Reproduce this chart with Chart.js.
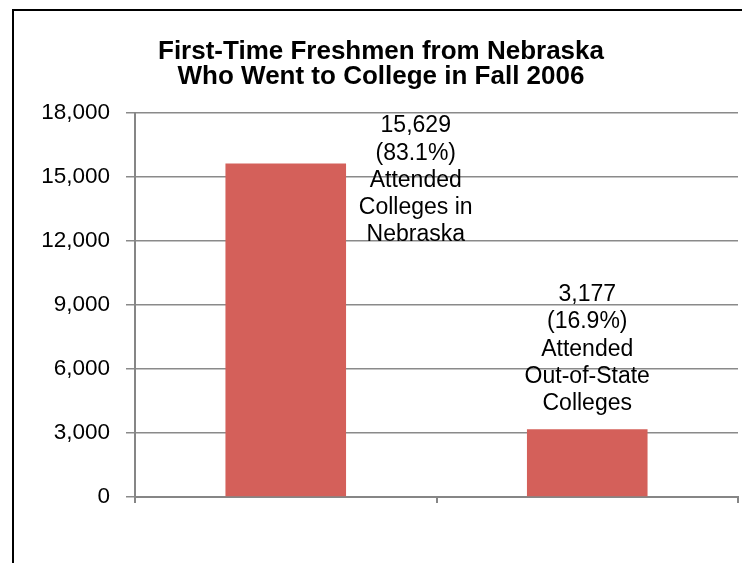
<!DOCTYPE html>
<html>
<head>
<meta charset="utf-8">
<script src="https://cdn.jsdelivr.net/npm/chart.js@4/dist/chart.umd.min.js"></script>
<style>
html, body { margin: 0; background: #fff; overflow: hidden; }
#frame { position: absolute; left: 12px; top: 9px; width: 800px; height: 600px; border-left: 2px solid #000; border-top: 2px solid #000; }
#wrap { position: absolute; left: 0; top: 0; width: 742px; height: 563px; }
</style>
</head>
<body>
<div id="frame"></div>
<div id="wrap"><canvas id="myChart" width="742" height="563"></canvas></div>
<script>
const categories = [['Attended', 'Colleges in', 'Nebraska'], ['Attended', 'Out-of-State', 'Colleges']];
const students = [15629, 3177];
const shares = [83.1, 16.9];
const yTicks = [0, 3000, 6000, 9000, 12000, 15000, 18000];

// where each multi-line label sits relative to the top of its bar
const labelOffsets = [{ dx: 130, dy: -31 }, { dx: 0, dy: -128 }];

const barLabels = {
    id: 'barLabels',
    afterDatasetsDraw(chart) {
        const ctx = chart.ctx;
        const meta = chart.getDatasetMeta(0);
        ctx.save();
        ctx.font = '23px "Liberation Sans", Arial, sans-serif';
        ctx.fillStyle = '#000';
        ctx.textAlign = 'center';
        ctx.textBaseline = 'alphabetic';
        meta.data.forEach((bar, i) => {
            const lines = [students[i].toLocaleString('en-US'), '(' + shares[i].toFixed(1) + '%)'].concat(categories[i]);
            const off = labelOffsets[i];
            lines.forEach((line, j) => {
                ctx.fillText(line, bar.x + off.dx, bar.y + off.dy + j * 27.2);
            });
        });
        ctx.restore();
    }
};

const ctx = document.getElementById('myChart').getContext('2d');

const myChart = new Chart(ctx, {
    type: 'bar',
    data: {
        labels: categories.map(c => c.join(' ')),
        datasets: [{
            data: students,
            backgroundColor: '#D4605A',
            borderWidth: 0,
            barPercentage: 0.4,
            categoryPercentage: 1.0
        }]
    },
    plugins: [barLabels],
    options: {
        responsive: false,
        animation: false,
        devicePixelRatio: 1,
        layout: {
            padding: { left: 24, right: 4, top: 0, bottom: 0 }
        },
        plugins: {
            legend: { display: false },
            tooltip: { enabled: false },
            title: {
                display: true,
                text: ['First-Time Freshmen from Nebraska', 'Who Went to College in Fall 2006'],
                color: '#000',
                font: { family: '"Liberation Sans", Arial, sans-serif', size: 26, weight: 'bold', lineHeight: 0.94 },
                padding: { top: 40, bottom: 24 }
            }
        },
        scales: {
            x: {
                offset: true,
                grid: {
                    offset: true,
                    drawOnChartArea: false,
                    drawTicks: true,
                    tickLength: 6,
                    color: '#868686',
                    lineWidth: 2
                },
                border: { display: true, color: '#868686', width: 2 },
                ticks: { display: false },
                afterFit: s => { s.height = 66; }
            },
            y: {
                min: 0,
                max: 18000,
                afterBuildTicks: s => { s.ticks = yTicks.map(v => ({ value: v })); },
                grid: {
                    color: '#8a8a8a',
                    lineWidth: 1.5,
                    drawTicks: true,
                    tickLength: 9
                },
                border: { display: true, color: '#868686', width: 2 },
                ticks: {
                    color: '#000',
                    padding: 16,
                    font: { family: '"Liberation Sans", Arial, sans-serif', size: 22.5 },
                    callback: v => v.toLocaleString('en-US')
                },
                afterFit: s => { s.width = 111; }
            }
        }
    }
});
</script>
</body>
</html>
